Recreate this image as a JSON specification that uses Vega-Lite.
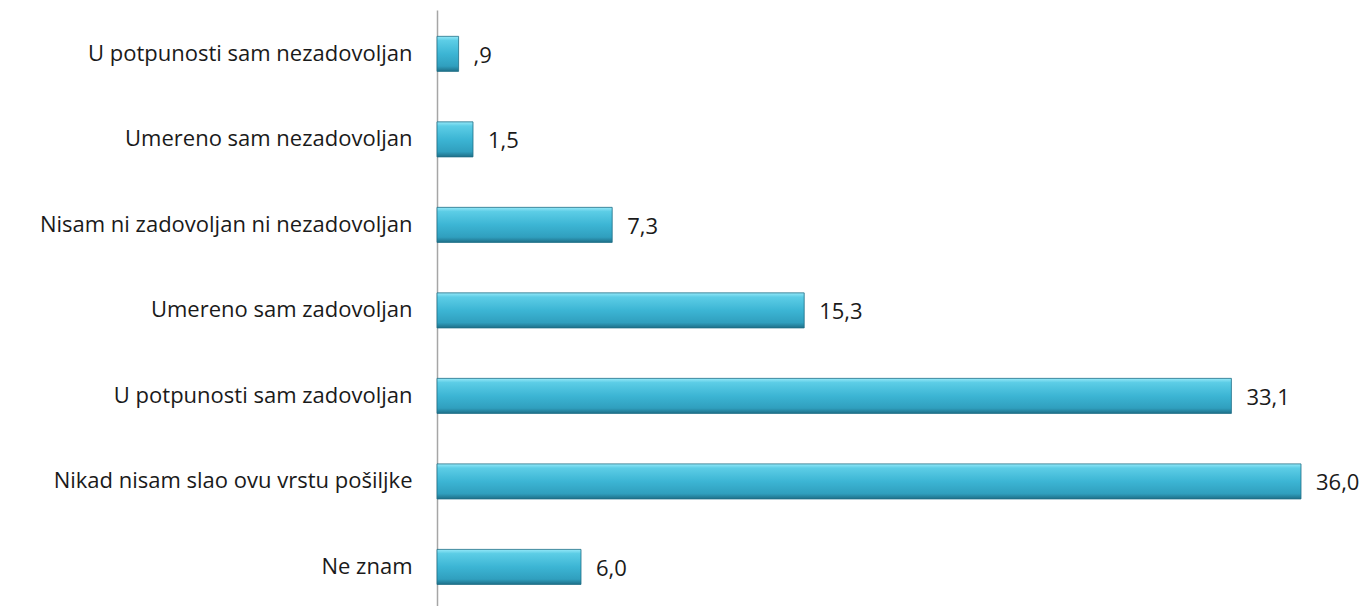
{
  "$schema": "https://vega.github.io/schema/vega-lite/v6.json",
  "autosize": {"type": "none"},
  "padding": {"left": 437, "top": 10, "right": 16, "bottom": 0},
  "width": 912,
  "height": 596,
  "background": "white",
  "config": {"view": {"stroke": null}, "font": "Open Sans"},
  "data": {"values": [
    {"kategorija": "U potpunosti sam nezadovoljan", "vrednost": 0.9, "oznaka": ",9"},
    {"kategorija": "Umereno sam nezadovoljan", "vrednost": 1.5, "oznaka": "1,5"},
    {"kategorija": "Nisam ni zadovoljan ni nezadovoljan", "vrednost": 7.3, "oznaka": "7,3"},
    {"kategorija": "Umereno sam zadovoljan", "vrednost": 15.3, "oznaka": "15,3"},
    {"kategorija": "U potpunosti sam zadovoljan", "vrednost": 33.1, "oznaka": "33,1"},
    {"kategorija": "Nikad nisam slao ovu vrstu pošiljke", "vrednost": 36.0, "oznaka": "36,0"},
    {"kategorija": "Ne znam", "vrednost": 6.0, "oznaka": "6,0"}
  ]},
  "encoding": {
    "y": {
      "field": "kategorija", "type": "nominal", "sort": null,
      "scale": {"paddingInner": 0.59, "paddingOuter": 0.28, "align": 0.55},
      "axis": {
        "title": null, "ticks": false, "grid": false,
        "labelPadding": 25, "labelFontSize": 22, "labelColor": "#1a1a1a",
        "labelFont": "Open Sans", "labelFontWeight": "normal", "labelLimit": 500,
        "domainColor": "#a6a6a6", "domainWidth": 1.5
      }
    },
    "x": {
      "field": "vrednost", "type": "quantitative",
      "scale": {"domain": [0, 38], "nice": false},
      "axis": null
    }
  },
  "layer": [
    {
      "mark": {
        "type": "bar",
        "stroke": "#1f6f86", "strokeWidth": 0.8,
        "color": {
          "gradient": "linear", "x1": 0, "y1": 0, "x2": 0, "y2": 1,
          "stops": [
            {"offset": 0, "color": "#95e8f8"},
            {"offset": 0.12, "color": "#5ccde6"},
            {"offset": 0.5, "color": "#3cb5d4"},
            {"offset": 0.85, "color": "#309fbe"},
            {"offset": 1, "color": "#1e6f88"}
          ]
        }
      }
    },
    {
      "mark": {"type": "text", "align": "left", "baseline": "middle", "dx": 15, "dy": 2, "fontSize": 22, "font": "Open Sans", "color": "#1a1a1a"},
      "encoding": {"text": {"field": "oznaka"}}
    }
  ]
}
